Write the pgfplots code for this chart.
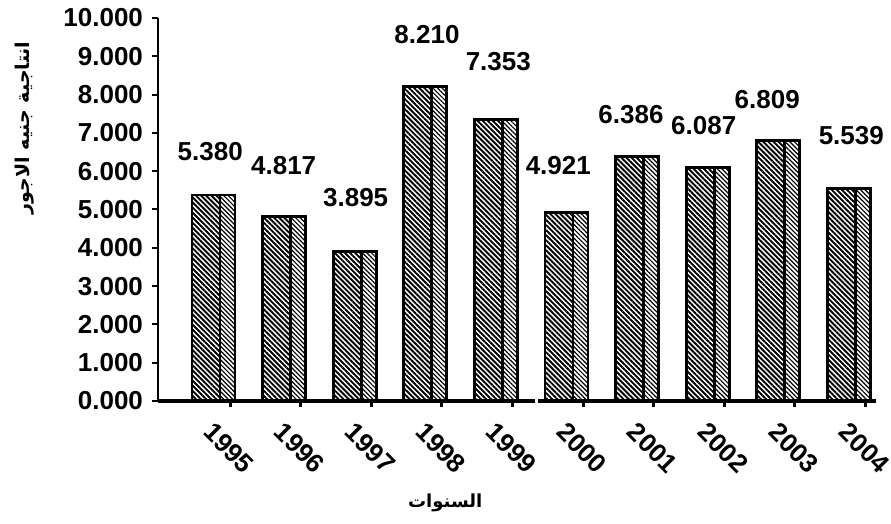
\documentclass[border=0pt]{standalone}
\usepackage{pgfplots}
\pgfplotsset{compat=1.18}
\usetikzlibrary{patterns.meta}
\usepackage{fontspec}
\setmainfont{Liberation Sans}
\newfontfamily\arabicfont[Script=Arabic]{DejaVu Sans}
\TeXXeTstate=1
\begin{document}
\begin{tikzpicture}
\useasboundingbox (-79pt,-61.5pt) rectangle (366.5pt,200.5pt);
\begin{axis}[
  scale only axis,
  width=359pt, height=191.5pt,
  xmin=-1.02, xmax=9.15,
  ymin=0, ymax=10,
  axis x line*=bottom, axis y line*=left,
  x axis line style={line width=1.6pt},
  y axis line style={line width=1pt},
  tick align=outside,
  major tick length=3pt,
  xtick={0,...,9},
  xticklabels={1995,1996,1997,1998,1999,2000,2001,2002,2003,2004},
  ytick={0,1,...,10},
  yticklabels={0.000,1.000,2.000,3.000,4.000,5.000,6.000,7.000,8.000,9.000,10.000},
  x tick style={line width=1.5pt, black},
  y tick style={line width=1pt, black},
  /pgf/number format/assume math mode=true,
  tick label style={font=\fontsize{13}{15}\selectfont\bfseries},
  xticklabel style={xshift=-0.5pt, yshift=-20.5pt, rotate=-45, anchor=center},
  yticklabel style={xshift=-1pt},
  clip=false,
]
% front faces
\addplot[ybar, bar width=0.397, bar shift=0pt, draw=black, line width=1.4pt,
  pattern={Lines[angle=-45,distance=1.8pt,line width=0.95pt]}]
coordinates {(-0.34,5.380) (0.66,4.817) (1.66,3.895) (2.66,8.210) (3.66,7.353)
 (4.66,4.921) (5.66,6.386) (6.66,6.087) (7.66,6.809) (8.66,5.539)};
% side faces
\addplot[ybar, bar width=0.212, bar shift=0pt, draw=black, line width=1.4pt,
  pattern={Lines[angle=-45,distance=1.6pt,line width=0.6pt]}]
coordinates {(-0.035,5.380) (0.965,4.817) (1.965,3.895) (2.965,8.210) (3.965,7.353)
 (4.965,4.921) (5.965,6.386) (6.965,6.087) (7.965,6.809) (8.965,5.539)};
% value labels
\addplot[draw=none, nodes near coords, point meta=explicit symbolic,
  every node near coord/.style={anchor=center, font=\fontsize{13}{15}\selectfont\bfseries}]
coordinates {(-0.28,6.50)[5.380] (0.76,6.16)[4.817] (1.78,5.30)[3.895]
 (2.79,9.58)[8.210] (3.80,8.85)[7.353] (4.65,6.16)[4.921] (5.68,7.49)[6.386]
 (6.71,7.18)[6.087] (7.61,7.86)[6.809] (8.80,6.92)[5.539]};
% axis break gap
\draw[white, line width=1.6pt] ([yshift=-2pt]axis cs:4.34,0) -- ([yshift=2pt]axis cs:4.34,0);
\node[xshift=-66.5pt, rotate=90, anchor=center, font=\fontsize{9.5}{11}\selectfont\arabicfont\bfseries]
  at (axis description cs:0,0.713) {\beginR انتاجية جنيه الاجور\endR};
\node[yshift=-51pt, anchor=center, font=\fontsize{9}{11}\selectfont\arabicfont\bfseries]
  at (axis description cs:0.40,0) {\beginR السنوات\endR};
\end{axis}
\end{tikzpicture}
\end{document}
